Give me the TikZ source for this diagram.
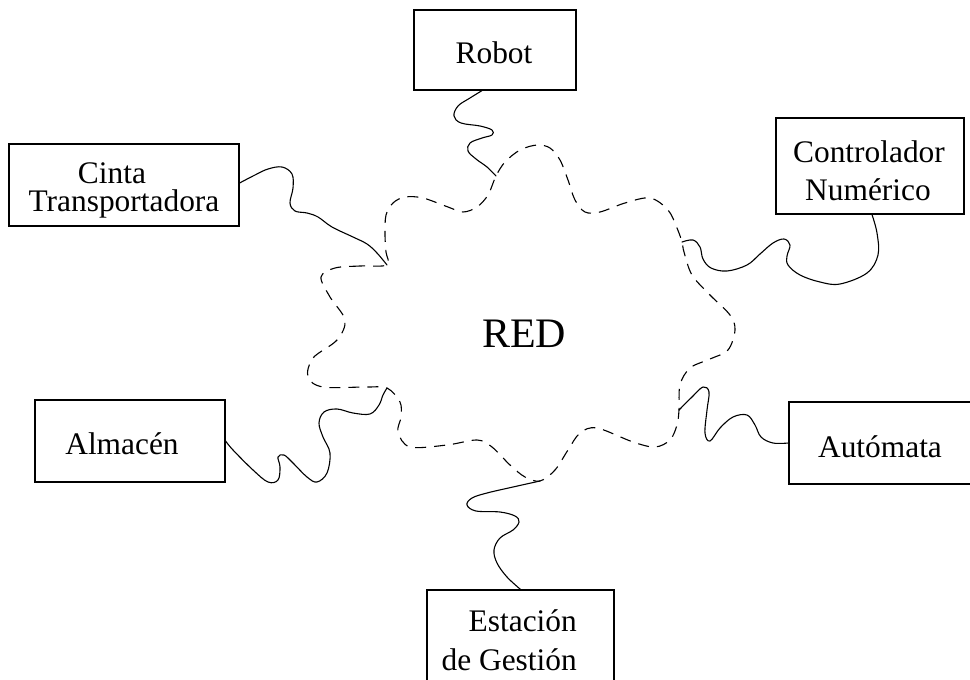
\documentclass[tikz,border=0pt]{standalone}
\usepackage{fontspec}
\setmainfont{Liberation Serif}
\begin{document}
\begin{tikzpicture}[x=1pt,y=-1pt,
  box/.style={draw, line width=1.2pt, rectangle, inner sep=0pt},
  lbl/.style={inner sep=0pt, font=\fontsize{31.4}{34}\selectfont},
  wire/.style={line width=1.1pt, line join=round, line cap=round},
  cloudline/.style={line width=1.1pt, dash pattern=on 11pt off 8pt}]
\useasboundingbox (0,0) rectangle (970,680);

% boxes
\node[box, minimum width=162, minimum height=80] (robot) at (495,50) {};
\node[box, minimum width=230, minimum height=82] (cinta) at (124,185) {};
\node[box, minimum width=188, minimum height=96] (ctrl) at (870,166) {};
\node[box, minimum width=190, minimum height=82] (alm) at (130,441) {};
\node[box, minimum width=201, minimum height=82] (aut) at (889.5,443) {};
\node[box, minimum width=187, minimum height=100] (est) at (520.5,640) {};

% labels
\node[lbl, anchor=base] (robotT) at (494,63) {Robot};
\node[lbl, anchor=north, align=center, font=\fontsize{31.4}{28}\selectfont] (cintaT) at (124,163)
  {\hspace*{-24pt}Cinta\\Transportadora};
\node[lbl, anchor=base] (ctrlT1) at (869,162) {Controlador};
\node[lbl, anchor=base] (ctrlT2) at (868,200) {Numérico};
\node[lbl, anchor=base] (almT) at (122,454) {Almacén};
\node[lbl, anchor=base] (autT) at (880,457) {Autómata};
\node[lbl, anchor=base east] (estT1) at (577,631) {Estación};
\node[lbl, anchor=base east] (estT2) at (577,670) {de Gestión};
\node[inner sep=0pt, anchor=base, font=\fontsize{42}{44}\selectfont] (red) at (524,347) {RED};

% junctions on the cloud
\coordinate (jCinta) at (387,265);
\coordinate (jAlm) at (387,388);
\coordinate (jEst) at (540,481);
\coordinate (jAut) at (679,410);
\coordinate (jCtrl) at (682,242);
\coordinate (jRobot) at (496,176);

% wire ends on the boxes
\coordinate (rb0) at ([xshift=-13pt]robot.south);
\coordinate (ci0) at ([yshift=2pt]cinta.east);
\coordinate (ct0) at ([xshift=2pt]ctrl.south);
\coordinate (au0) at (aut.west);
\coordinate (al0) at (alm.east);
\coordinate (es0) at (est.north);

% cloud
\draw[cloudline] plot[smooth cycle, tension=0.55] coordinates {
 (jCinta) (360,266) (335,268) (321,277) (330,297) (345,320) (337,340) (313,358) (308,377)
 (323,387) (367,387) (jAlm) (400,402) (401,417) (398,432) (410,447) (447,445) (477,440)
 (492,447) (510,465) (525,477) (jEst) (555,470) (568,450) (580,433) (597,428) (633,442)
 (655,447) (670,440) (677,425) (jAut) (680,385) (690,368) (710,359) (728,350) (735,330)
 (730,315) (710,295) (692,275) (684,252) (jCtrl) (677,228) (668,210) (650,198) (625,203)
 (600,212) (585,212) (575,200) (568,180) (560,160) (550,148) (537,145) (520,150) (505,162)
 (jRobot) (488,195) (477,207) (463,212) (448,207) (423,198) (405,197) (393,203) (386,215)
 (385,235) (386,252)};

% wires
\draw[wire] plot[smooth, tension=0.6] coordinates {
 (rb0) (470,98) (458,106) (454,116) (461,123) (480,126) (492,130) (492,135) (482,138)
 (470,143) (468,151) (476,159) (487,167) (jRobot)};
\draw[wire] plot[smooth, tension=0.6] coordinates {
 (ci0) (255,175) (268,169) (282,167) (292,174) (293,188) (290,203) (295,211) (307,213)
 (318,217) (332,227) (353,237) (367,244) (377,253) (jCinta)};
\draw[wire] plot[smooth, tension=0.6] coordinates {
 (ct0) (877,233) (878,255) (867,273) (840,284) (820,282) (800,275) (788,265) (787,256)
 (790,245) (784,239) (773,243) (760,254) (747,265) (727,271) (711,268) (703,259)
 (700,247) (693,240) (jCtrl)};
\draw[wire] plot[smooth, tension=0.6] coordinates {
 (au0) (773,443) (761,437) (755,425) (747,415) (733,417) (720,428) (710,441) (705,433)
 (707,410) (709,392) (703,387) (692,397) (jAut)};
\draw[wire] plot[smooth, tension=0.6] coordinates {
 (al0) (233,450) (253,470) (268,482) (278,480) (280,467) (278,457) (284,455) (293,463)
 (307,477) (317,482) (327,473) (330,453) (323,437) (319,423) (324,412) (337,409)
 (353,413) (370,414) (379,405) (383,395) (jAlm)};
\draw[wire] plot[smooth, tension=0.6] coordinates {
 (es0) (507,577) (497,563) (494,550) (500,538) (513,530) (519,522) (515,516) (500,512)
 (476,511) (467,505) (472,498) (487,493) (513,487) (jEst)};
\end{tikzpicture}
\end{document}
